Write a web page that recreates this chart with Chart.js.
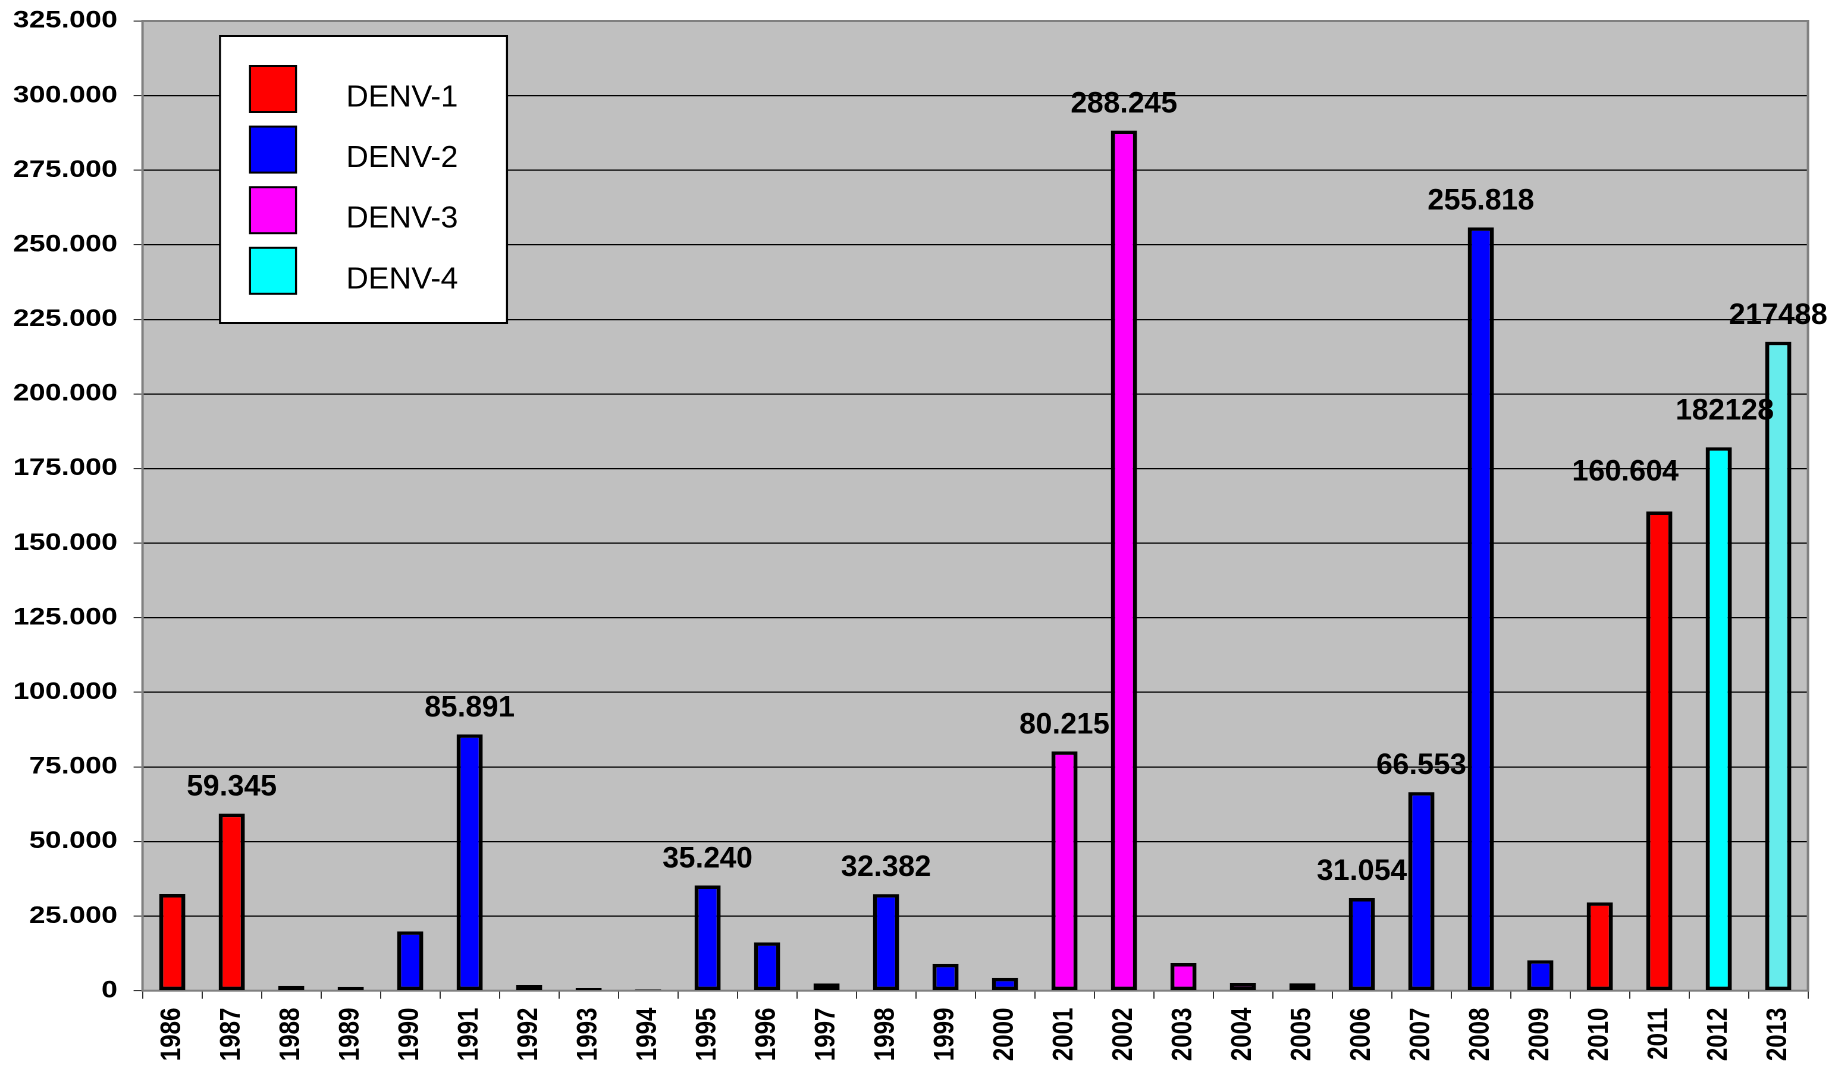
<!DOCTYPE html>
<html>
<head>
<meta charset="utf-8">
<title>Casos de dengue por sorotipo, 1986–2013</title>
<script src="https://cdn.jsdelivr.net/npm/chart.js@4/dist/chart.umd.min.js"></script>
<style>
  html, body { margin: 0; padding: 0; background: #ffffff; overflow: hidden; }
  /* The chart is laid out on a narrower canvas and widened horizontally,
     the way the original spreadsheet graphic was stretched to fit the page. */
  #wrap {
    position: absolute; left: 0; top: 0;
    width: 1540px; height: 1065px;
    transform: scaleX(1.18961); transform-origin: 0 0;
  }
</style>
</head>
<body>
<div id="wrap"><canvas id="chart" width="1540" height="1065"></canvas></div>
<script>
// Reported dengue cases per year and the dominant serotype of each year
const years = ['1986','1987','1988','1989','1990','1991','1992','1993','1994','1995',
               '1996','1997','1998','1999','2000','2001','2002','2003','2004','2005',
               '2006','2007','2008','2009','2010','2011','2012','2013'];
const cases = [32400, 59345, 1600, 1300, 19900, 85891, 1900, 900, 400, 35240,
               16200, 2400, 32382, 9000, 4300, 80215, 288245, 9300, 2600, 2500,
               31054, 66553, 255818, 10200, 29600, 160604, 182128, 217488];
const serotypeOfYear = ['DENV-1','DENV-1','DENV-1','DENV-1','DENV-2','DENV-2','DENV-1','DENV-2','DENV-2','DENV-2',
                        'DENV-2','DENV-2','DENV-2','DENV-2','DENV-2','DENV-3','DENV-3','DENV-3','DENV-3','DENV-3',
                        'DENV-2','DENV-2','DENV-2','DENV-2','DENV-1','DENV-1','DENV-4','DENV-4'];
const serotypes = ['DENV-1','DENV-2','DENV-3','DENV-4'];
// Value annotations printed above selected bars
const valueLabels = [null,'59.345',null,null,null,'85.891',null,null,null,'35.240',
                     null,null,'32.382',null,null,'80.215','288.245',null,null,null,
                     '31.054','66.553','255.818',null,null,'160.604','182128','217488'];
const yMax = 325000;
const yStep = 25000;

const STRETCH = 1832 / 1540;
const serotypeColors = { 'DENV-1': '#FF0000', 'DENV-2': '#0000FF', 'DENV-3': '#FF00FF', 'DENV-4': '#00FFFF' };
const FONT = '"Liberation Sans", Arial, Helvetica, sans-serif';

const thousands = v => String(v).replace(/\B(?=(\d{3})+(?!\d))/g, '.');

const datasets = serotypes.map(s => ({
  label: s,
  data: cases.map((v, i) => serotypeOfYear[i] === s ? v : null),
  backgroundColor: s === 'DENV-4'
    ? (c => years[c.dataIndex] === '2013' ? '#66ECEC' : serotypeColors[s])
    : serotypeColors[s],
  borderColor: '#000000',
  borderWidth: 3.5,
  borderSkipped: false,
  barPercentage: 0.44,
  categoryPercentage: 1.0,
  grouped: false
}));

// Grey plot area with a grey frame
const plotArea = {
  id: 'plotArea',
  beforeDraw(chart) {
    const { ctx, chartArea: a } = chart;
    ctx.save();
    ctx.fillStyle = '#C0C0C0';
    ctx.fillRect(a.left, a.top, a.right - a.left, a.bottom - a.top);
    ctx.restore();
  },
  beforeDatasetsDraw(chart) {
    const { ctx, chartArea: a } = chart;
    ctx.save();
    ctx.strokeStyle = '#808080';
    ctx.lineWidth = 2;
    ctx.strokeRect(a.left, a.top, a.right - a.left, a.bottom - a.top);
    ctx.restore();
  }
};

// Numbers written above the annotated bars
const labelShift = { '2011': [-34, -13], '2012': [6, -10] };
const valueText = {
  id: 'valueText',
  afterDatasetsDraw(chart) {
    const ctx = chart.ctx;
    ctx.save();
    ctx.scale(1 / STRETCH, 1);
    ctx.font = 'bold 29.5px ' + FONT;
    ctx.fillStyle = '#000000';
    ctx.textAlign = 'center';
    ctx.textBaseline = 'alphabetic';
    years.forEach((yr, i) => {
      const text = valueLabels[i];
      if (!text) return;
      const bar = chart.getDatasetMeta(serotypes.indexOf(serotypeOfYear[i])).data[i];
      const shift = labelShift[yr] || [0, 0];
      ctx.fillText(text, bar.x * STRETCH + shift[0], bar.y - 18 + shift[1]);
    });
    ctx.restore();
  }
};

// Boxed legend in the upper-left corner of the plot
const boxedLegend = {
  id: 'boxedLegend',
  afterDraw(chart) {
    const ctx = chart.ctx;
    ctx.save();
    ctx.scale(1 / STRETCH, 1);
    ctx.fillStyle = '#FFFFFF';
    ctx.fillRect(220, 36, 287, 287);
    ctx.strokeStyle = '#000000';
    ctx.lineWidth = 2;
    ctx.strokeRect(220, 36, 287, 287);
    ctx.font = '31px ' + FONT;
    ctx.textAlign = 'left';
    ctx.textBaseline = 'alphabetic';
    chart.data.datasets.forEach((ds, k) => {
      const top = 66 + k * 60.6;
      ctx.fillStyle = serotypeColors[ds.label];
      ctx.fillRect(250, top, 46, 46);
      ctx.strokeStyle = '#000000';
      ctx.lineWidth = 2;
      ctx.strokeRect(250, top, 46, 46);
      ctx.fillStyle = '#000000';
      ctx.fillText(ds.label, 346, top + 40.5);
    });
    ctx.restore();
  }
};

new Chart(document.getElementById('chart'), {
  type: 'bar',
  data: { labels: years, datasets },
  plugins: [plotArea, valueText, boxedLegend],
  options: {
    responsive: false,
    animation: false,
    devicePixelRatio: 2,
    layout: { padding: { left: 0, right: 20.2, top: 21, bottom: 0 } },
    plugins: {
      legend: { display: false },
      tooltip: { enabled: false },
      title: { display: false }
    },
    scales: {
      x: {
        offset: true,
        grid: {
          offset: true,
          drawOnChartArea: false,
          drawTicks: true,
          tickLength: 8,
          color: '#303030',
          lineWidth: 1
        },
        border: { display: false },
        ticks: {
          autoSkip: false,
          minRotation: 90,
          maxRotation: 90,
          padding: 9,
          color: '#000000',
          font: { family: FONT, weight: 'bold', size: 24 }
        },
        afterFit(scale) {
          scale.height = 74.3;
          scale.paddingLeft = 0;
          scale.paddingRight = 0;
        }
      },
      y: {
        min: 0,
        max: yMax,
        ticks: {
          stepSize: yStep,
          padding: 13.5,
          color: '#000000',
          font: { family: FONT, weight: 'bold', size: 24.3 },
          callback: v => thousands(v)
        },
        grid: {
          color: '#000000',
          lineWidth: 1.2,
          tickLength: 7.5,
          tickColor: '#202020',
          tickWidth: 1
        },
        border: { display: false },
        afterFit(scale) {
          scale.width = 119.8;
          scale.paddingTop = 0;
          scale.paddingBottom = 0;
        }
      }
    }
  }
});
</script>
</body>
</html>
